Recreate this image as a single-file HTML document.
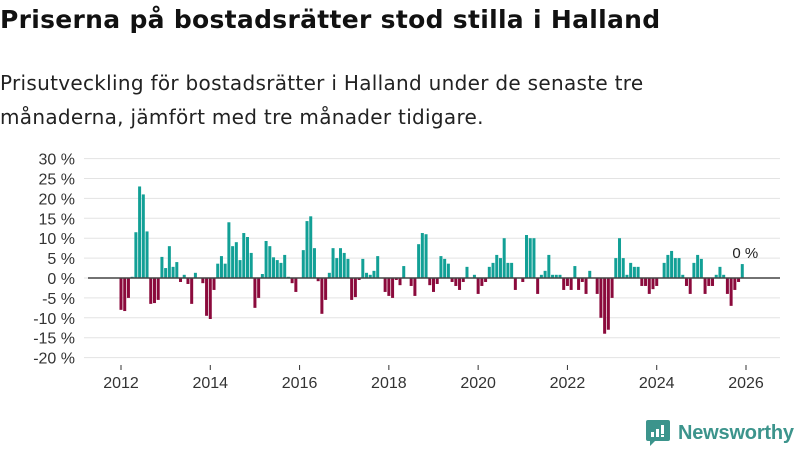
<!DOCTYPE html>
<html><head><meta charset="utf-8">
<style>
body{margin:0;width:800px;height:450px;background:#fff;font-family:"DejaVu Sans",sans-serif;overflow:hidden;position:relative}
#title{position:absolute;left:0;top:5px;font-size:25px;font-weight:bold;color:#111;margin:0;letter-spacing:0.3px;white-space:nowrap}
#sub{position:absolute;left:0;top:66px;font-size:20px;line-height:34px;color:#222;margin:0;white-space:nowrap;letter-spacing:0.3px}
svg{position:absolute;left:0;top:0}
</style></head><body>
<h1 id="title">Priserna på bostadsrätter stod stilla i Halland</h1>
<p id="sub">Prisutveckling för bostadsrätter i Halland under de senaste tre<br>månaderna, jämfört med tre månader tidigare.</p>
<svg id="chart" width="800" height="450"></svg>
<script>
const startYear = 2012;
const values = [-8,-8.3,-5,0.3,11.5,23,21,11.7,-6.5,-6.3,-5.5,5.3,2.5,8,2.8,4,-1,0.8,-1.5,-6.5,1.3,0,-1.3,-9.5,-10.3,-3,3.6,5.5,3.6,14,8,9,4.5,11.3,10.3,6.3,-7.5,-5,1,9.3,
8,5.2,4.5,3.8,5.8,0.3,-1.3,-3.5,0,7,14.3,15.5,7.5,-0.8,-9,-5.5,1.3,7.5,5,7.5,6.3,4.8,-5.5,-4.8,-0.5,4.8,1.3,0.8,1.8,5.5,0,-3.5,-4.5,-5,-0.5,-1.8,3,0,-2,-4.5,
8.5,11.3,11,-1.8,-3.5,-1.5,5.5,4.8,3.6,-1,-2,-3,-1,2.8,0,0.8,-4,-2,-1,2.8,3.8,5.8,5,10,3.8,3.8,-3,0,-1,10.8,10,10,-4,0.8,1.8,5.8,0.8,0.8,0.8,-3,-2,-3,3,-3,
-1,-4,1.8,0,-4,-10,-14,-13,-5,5,10,5,0.8,3.8,2.8,2.8,-2,-2,-4,-2.8,-2,0,3.8,5.8,6.8,5,5,0.8,-2,-4,3.8,5.8,4.8,-4,-2,-2,0.8,2.8,0.8,-4,-7,-3,-1,3.5];
const yTicks = [30,25,20,15,10,5,0,-5,-10,-15,-20];
const xTicks = [2012,2014,2016,2018,2020,2022,2024,2026];
const lastLabel = "0 %";

const svg = document.getElementById('chart');
const NS = 'http://www.w3.org/2000/svg';
const y = v => 278 - v * 3.98;
const x = m => 121 + m * (625 / 168);
function mk(tag, attrs){const e=document.createElementNS(NS,tag);for(const k in attrs)e.setAttribute(k,attrs[k]);svg.appendChild(e);return e;}
yTicks.forEach(t=>{
  const g = mk('line',{x1:84,x2:780,y1:y(t),y2:y(t),stroke:'#e3e3e3','stroke-width':1});
  
  
  const l = mk('text',{x:75,y:y(t)+6,'text-anchor':'end','font-size':16,fill:'#333','font-family':'Liberation Sans, sans-serif'});
  l.textContent = t + ' %';
  
  
});
xTicks.forEach(t=>{
  const px = x((t-startYear)*12);
  const tk = mk('line',{x1:px,x2:px,y1:365,y2:370,stroke:'#333'});
  
  
  const l = mk('text',{x:px,y:388,'text-anchor':'middle','font-size':16,fill:'#333','font-family':'Liberation Sans, sans-serif'});
  l.textContent = t;
  
  
});
values.forEach((v,i)=>{
  const px = x(i);
  const r = mk('rect',{x:px-1.5,width:3,y:Math.min(y(v),y(0)),height:Math.abs(y(v)-y(0)),fill:v>=0?'#12a096':'#8b0a3c'});
  
  
});
const zl = mk('line',{x1:88,x2:780,y1:y(0),y2:y(0),stroke:'#444','stroke-width':1.5});


const ll = mk('text',{x:x(values.length-1)+3,y:y(values[values.length-1])-6,'text-anchor':'middle','font-size':15,fill:'#222','font-family':'Liberation Sans, sans-serif'});
ll.textContent = lastLabel;


</script>
<div style="position:absolute;left:645px;top:419px;display:flex;align-items:center">
<svg width="26" height="28" viewBox="0 0 26 28" style="position:static"><path d="M3 1h20a2 2 0 0 1 2 2v17a2 2 0 0 1-2 2H10l-5 5v-5H3a2 2 0 0 1-2-2V3a2 2 0 0 1 2-2z" fill="#3c948c"/><rect x="6" y="13" width="3" height="5" fill="#fff"/><rect x="11" y="10" width="3" height="8" fill="#fff"/><rect x="16" y="6" width="3" height="9" fill="#fff"/><rect x="16" y="16" width="3" height="2" fill="#fff"/></svg>
<span style="margin-left:7px;font-family:'Liberation Sans',sans-serif;font-size:20px;color:#3c948c;font-weight:bold;letter-spacing:-0.2px">Newsworthy</span>
</div>
</body></html>
